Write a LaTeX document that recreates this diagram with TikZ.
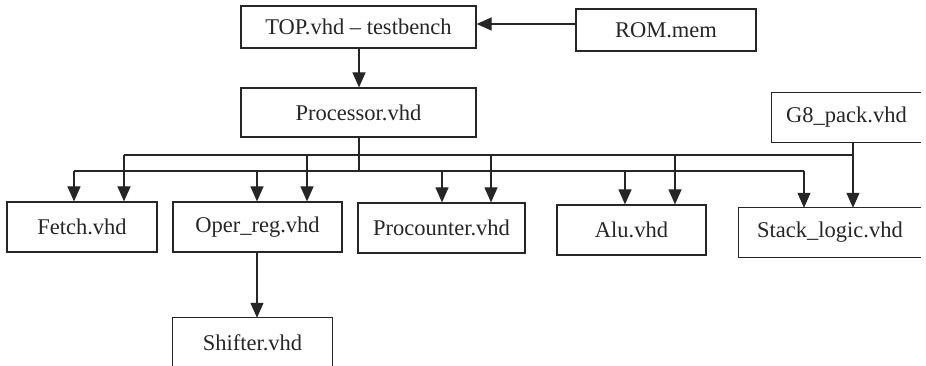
\documentclass[tikz,border=0pt]{standalone}
\usepackage{fontspec}
\setmainfont{Liberation Serif}
\usetikzlibrary{arrows.meta}
\begin{document}
\begin{tikzpicture}[x=1pt,y=-1pt,
  box/.style={draw=black!85,line width=1.2pt,inner sep=0pt,font=\fontsize{22.5}{26}\selectfont,text=black!85},
  obox/.style={inner sep=0pt,font=\fontsize{22.5}{26}\selectfont,text=black!85},
  ln/.style={draw=black!85,line width=1.2pt},
  arr/.style={ln,-{Triangle[length=15pt,width=13pt]}}]
\useasboundingbox (0,0) rectangle (926,366);
\clip (0,0) rectangle (926,366);
% boxes
\node[box,minimum width=235pt,minimum height=42pt] (top) at (358.5,27) {TOP.vhd -- testbench};
\node[box,minimum width=180pt,minimum height=42pt] (rom) at (666,30) {ROM.mem};
\node[box,minimum width=235pt,minimum height=49pt] (proc) at (358.5,112.5) {Processor.vhd};
\node[obox,minimum width=149pt,minimum height=49pt] (g8) at (846.5,117.5) {G8\_pack.vhd};
\draw[ln] (g8.north east) -- (g8.north west) -- (g8.south west) -- (g8.south east);
\node[box,minimum width=150pt,minimum height=50pt] (fetch) at (82,227) {Fetch.vhd};
\node[box,minimum width=169pt,minimum height=50pt] (oper) at (257.5,227) {Oper\_reg.vhd};
\node[box,minimum width=167pt,minimum height=50pt] (procnt) at (441.5,228) {Procounter.vhd};
\node[box,minimum width=149pt,minimum height=50pt] (alu) at (631.5,230) {Alu.vhd};
\node[obox,minimum width=182pt,minimum height=49pt] (stack) at (830,232.5) {Stack\_logic.vhd};
\draw[ln] (stack.north east) -- (stack.north west) -- (stack.south west) -- (stack.south east);
\node[obox,minimum width=159pt,minimum height=49pt] (shift) at (252.5,342.5) {Shifter.vhd};
\draw[ln] (shift.south west) -- (shift.north west) -- (shift.north east) -- (shift.south east);
% top connections
\coordinate (romy) at (0,24);
\draw[arr] (rom.west |- romy) -- (top.east |- romy);
\draw[arr] (top.south -| 359,0) -- (proc.north -| 359,0);
% buses
\coordinate (ub) at (0,155);
\coordinate (lb) at (0,171);
\coordinate (l1) at (74,171);  \coordinate (l2) at (257,171); \coordinate (l3) at (442,171);
\coordinate (l4) at (625,171); \coordinate (l5) at (804,171);
\coordinate (u1) at (124,155); \coordinate (u2) at (307,155); \coordinate (u3) at (491,155);
\coordinate (u4) at (675,155); \coordinate (u5) at (853,155);
\draw[ln] (proc.south -| 359,0) -- (lb -| 359,0);
\draw[ln] (l1) -- (l5);
\draw[ln] (u1) -- (u5);
\draw[arr] (l1) -- (l1 |- fetch.north);
\draw[arr] (l2) -- (l2 |- oper.north);
\draw[arr] (l3) -- (l3 |- procnt.north);
\draw[arr] (l4) -- (l4 |- alu.north);
\draw[arr] (l5) -- (l5 |- stack.north);
\draw[arr] (u1) -- (u1 |- fetch.north);
\draw[arr] (u2) -- (u2 |- oper.north);
\draw[arr] (u3) -- (u3 |- procnt.north);
\draw[arr] (u4) -- (u4 |- alu.north);
\draw[arr] (g8.south -| u5) -- (u5 |- stack.north);
% shifter
\draw[arr] (oper.south -| l2) -- (shift.north -| l2);
\end{tikzpicture}
\end{document}
